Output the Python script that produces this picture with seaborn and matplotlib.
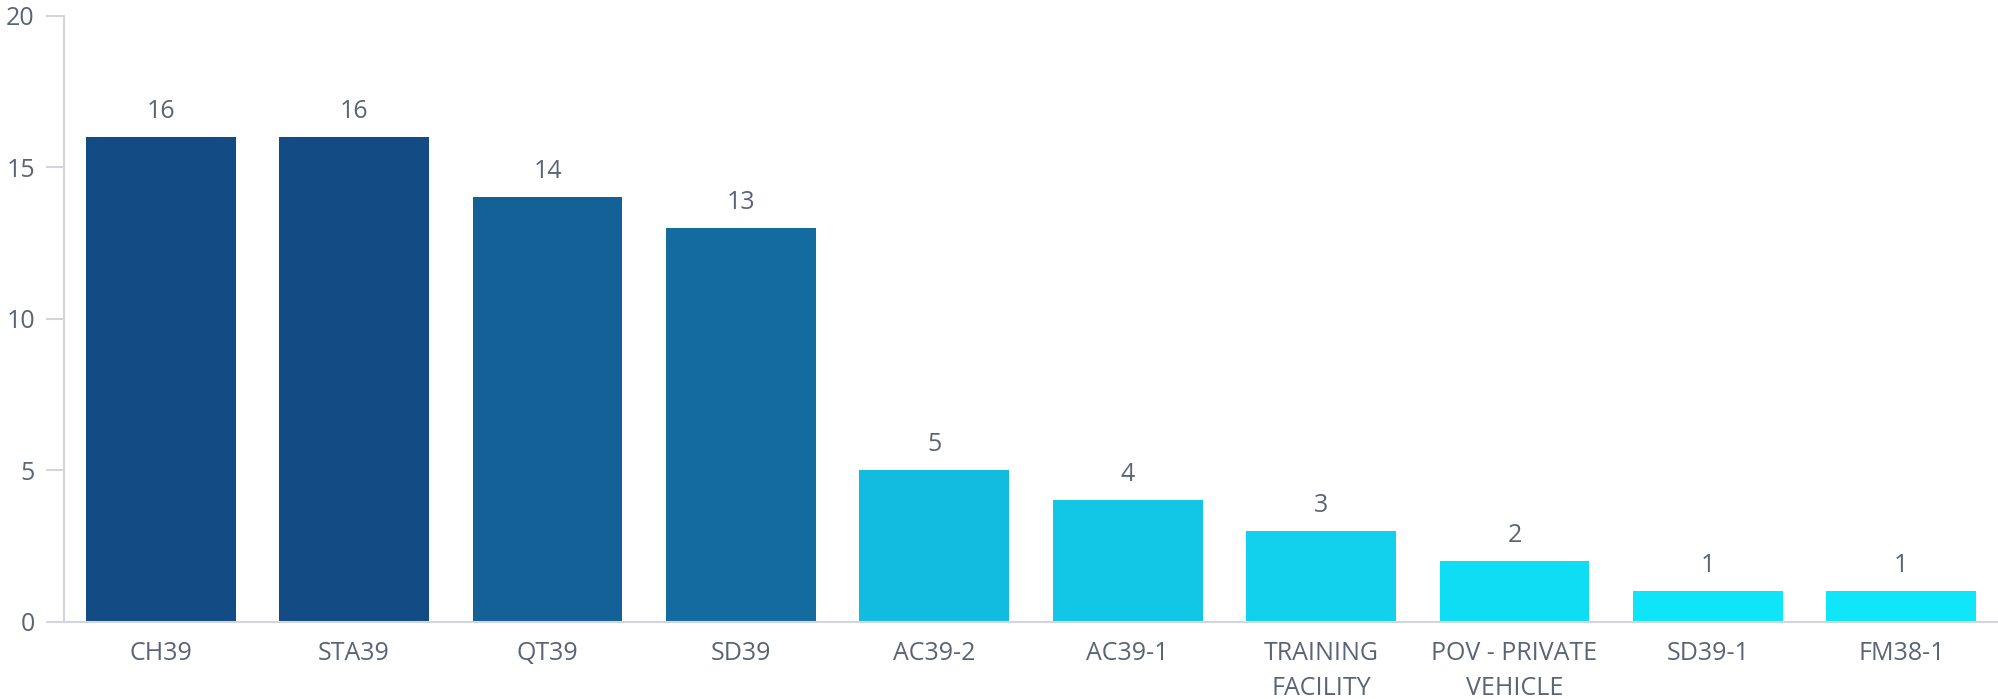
import matplotlib
matplotlib.use("Agg")
import matplotlib.pyplot as plt
import seaborn as sns
import pandas as pd

categories = ["CH39", "STA39", "QT39", "SD39", "AC39-2", "AC39-1",
              "TRAINING\nFACILITY", "POV - PRIVATE\nVEHICLE", "SD39-1", "FM38-1"]
values = [16, 16, 14, 13, 5, 4, 3, 2, 1, 1]
colors = ["#134c85", "#134c85", "#136197", "#146b9f", "#12bce0",
          "#12c6e5", "#12d1ec", "#0fddf3", "#0fe5f9", "#0fe6fa"]
y_ticks = [0, 5, 10, 15, 20]

sns.set_theme(style="white")
plt.rcParams['font.family'] = ['Open Sans', 'DejaVu Sans']
text_color = "#5b6477"
axis_color = "#d3d5dc"

df = pd.DataFrame({"cat": categories, "val": values})

fig = plt.figure(figsize=(19.98, 6.99), dpi=100)
ax = fig.add_axes([64/1998, 1 - 621.6/699, 1 - 64/1998, (621.6 - 15.7)/699])

sns.barplot(data=df, x="cat", y="val", hue="cat", order=categories,
            hue_order=categories, palette=colors, width=0.775,
            legend=False, ax=ax, saturation=1, linewidth=0)

ax.set_xlim(-0.5, len(categories) - 0.5)
ax.set_ylim(0, 20)
ax.set_yticks(y_ticks)
ax.set_xlabel("")
ax.set_ylabel("")

for i, v in enumerate(values):
    ax.annotate(str(v), (i, v), xytext=(0, 9.5), textcoords="offset points",
                ha="center", va="bottom", fontsize=18, color=text_color)

ax.tick_params(axis="y", length=13, width=1.5, color=axis_color,
               labelsize=18, labelcolor=text_color, pad=8, left=True)
ax.tick_params(axis="x", length=0, labelsize=18, labelcolor=text_color, pad=14)
for lbl in ax.get_xticklabels():
    lbl.set_linespacing(1.55)

for side in ["top", "right"]:
    ax.spines[side].set_visible(False)
for side in ["left", "bottom"]:
    ax.spines[side].set_color(axis_color)
    ax.spines[side].set_linewidth(1.5)

fig.savefig("out.png", dpi=100)
